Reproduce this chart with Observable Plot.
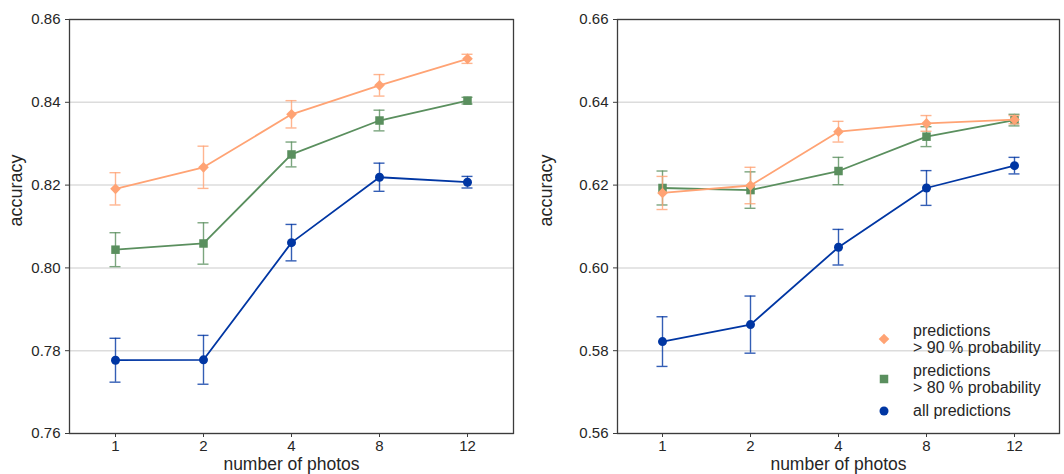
<!DOCTYPE html>
<html>
<head>
<meta charset="utf-8">
<script src="https://cdn.jsdelivr.net/npm/d3@7"></script>
<script src="https://cdn.jsdelivr.net/npm/@observablehq/plot@0.6"></script>
<style>
  html, body { margin: 0; padding: 0; background: #fff; }
  #wrap { position: relative; width: 1064px; height: 474px; overflow: hidden; font-family: "Liberation Sans", Arial, sans-serif; color: #262626; }
  .panel { position: absolute; top: 0; }
  #legend { position: absolute; left: 874px; top: 322px; font-size: 16px; line-height: 17px; color: #262626; }
  .item { display: flex; align-items: center; margin-bottom: 6px; }
  .item svg { width: 20px; height: 16px; margin-right: 19px; flex: none; }
</style>
</head>
<body>
<div id="wrap">
  <div id="left" class="panel" style="left:0"></div>
  <div id="right" class="panel" style="left:530px"></div>
  <div id="legend"></div>
</div>
<script>
// ---- data ----
const photos = ["1", "2", "4", "8", "12"];
const seriesNames = ["predictions > 90 % probability", "predictions > 80 % probability", "all predictions"];
const seriesColors = ["#ffa374", "#5a8f5e", "#0036a3"];
const seriesSymbols = ["diamond2", "square", "circle"];

// left panel
const left90 = [0.8191, 0.8243, 0.8371, 0.8441, 0.8505];
const left90Err = [0.0039, 0.0051, 0.0033, 0.0026, 0.0011];
const left80 = [0.8044, 0.8059, 0.8274, 0.8356, 0.8404];
const left80Err = [0.0041, 0.0050, 0.0030, 0.0025, 0.0008];
const leftAll = [0.7777, 0.7778, 0.8061, 0.8219, 0.8207];
const leftAllErr = [0.0053, 0.0059, 0.0044, 0.0034, 0.0014];
const leftTicks = [0.76, 0.78, 0.80, 0.82, 0.84, 0.86];

// right panel
const right90 = [0.6181, 0.6199, 0.6329, 0.6349, 0.6358];
const right90Err = [0.0040, 0.0044, 0.0025, 0.0019, 0.0010];
const right80 = [0.6193, 0.6188, 0.6234, 0.6317, 0.6357];
const right80Err = [0.0041, 0.0044, 0.0033, 0.0024, 0.0014];
const rightAll = [0.5822, 0.5863, 0.6050, 0.6193, 0.6247];
const rightAllErr = [0.0060, 0.0069, 0.0043, 0.0042, 0.0020];
const rightTicks = [0.56, 0.58, 0.60, 0.62, 0.64, 0.66];

const xLabel = "number of photos";
const yLabel = "accuracy";

function rows(values, errs) {
  return photos.map((p, i) => ({photos: p, value: values[i], lo: values[i] - errs[i], hi: values[i] + errs[i]}));
}

function panel({width, marginLeft, marginRight, ticks, series}) {
  const marks = [
    Plot.gridY(ticks, {stroke: "#dcdcdc", strokeOpacity: 1, strokeWidth: 1.5}),
    Plot.frame({stroke: "#3c3c3c", strokeWidth: 1.3}),
    Plot.axisX({tickSize: 4, tickPadding: 3, fontSize: 15, label: null, stroke: "#3c3c3c"}),
    Plot.axisY(ticks, {tickSize: 4, tickPadding: 5, fontSize: 15, label: null, stroke: "#3c3c3c", tickFormat: d => d.toFixed(2)}),
    Plot.text([yLabel], {text: d => d, frameAnchor: "left", rotate: -90, dx: -(marginLeft - 16), fontSize: 18, fill: "#262626"}),
    Plot.text([xLabel], {text: d => d, frameAnchor: "bottom", dy: 31, fontSize: 17.5, fill: "#262626", lineAnchor: "middle"})
  ];
  // draw "all" first, then >80, then >90
  [2, 1, 0].forEach(k => {
    const data = series[k];
    const c = seriesColors[k];
    const cap = {x1: "photos", x2: "photos", stroke: c, strokeWidth: 1.4, strokeOpacity: 0.8, insetLeft: -5.5, insetRight: -5.5};
    marks.push(
      Plot.ruleX(data, {x: "photos", y1: "lo", y2: "hi", stroke: c, strokeWidth: 1.4, strokeOpacity: 0.8}),
      Plot.ruleY(data, {...cap, y: "lo"}),
      Plot.ruleY(data, {...cap, y: "hi"}),
      Plot.line(data, {x: "photos", y: "value", stroke: c, strokeWidth: 1.8}),
      Plot.dot(data, {x: "photos", y: "value", fill: c, stroke: null, symbol: seriesSymbols[k], r: k === 0 ? 4.8 : k === 1 ? 4.8 : 4.5})
    );
  });
  return Plot.plot({
    width, height: 474,
    marginLeft, marginRight, marginTop: 19, marginBottom: 41,
    style: {fontFamily: '"Liberation Sans", Arial, sans-serif', fontSize: "15px", color: "#262626", background: "#fff"},
    x: {type: "point", domain: photos, padding: 0.5},
    y: {domain: [ticks[0], ticks[ticks.length - 1]]},
    marks
  });
}

document.getElementById("left").appendChild(panel({
  width: 530, marginLeft: 69, marginRight: 17, ticks: leftTicks,
  series: [rows(left90, left90Err), rows(left80, left80Err), rows(leftAll, leftAllErr)]
}));
document.getElementById("right").appendChild(panel({
  width: 534, marginLeft: 87, marginRight: 5, ticks: rightTicks,
  series: [rows(right90, right90Err), rows(right80, right80Err), rows(rightAll, rightAllErr)]
}));

// legend
const legendLines = [["predictions", "> 90 % probability"], ["predictions", "> 80 % probability"], ["all predictions"]];
const legend = d3.select("#legend");
legendLines.forEach((lines, k) => {
  const item = legend.append("div").attr("class", "item");
  const svg = item.append("svg").attr("viewBox", "-10 -8 20 16");
  const sizes = [4.8, 4.8, 4.5];
  const symMap = {diamond2: d3.symbolDiamond2, square: d3.symbolSquare, circle: d3.symbolCircle};
  svg.append("path")
    .attr("d", d3.symbol(symMap[seriesSymbols[k]], Math.PI * sizes[k] * sizes[k])())
    .attr("fill", seriesColors[k]);
  const t = item.append("div");
  lines.forEach(l => t.append("div").text(l));
});
</script>
</body>
</html>
